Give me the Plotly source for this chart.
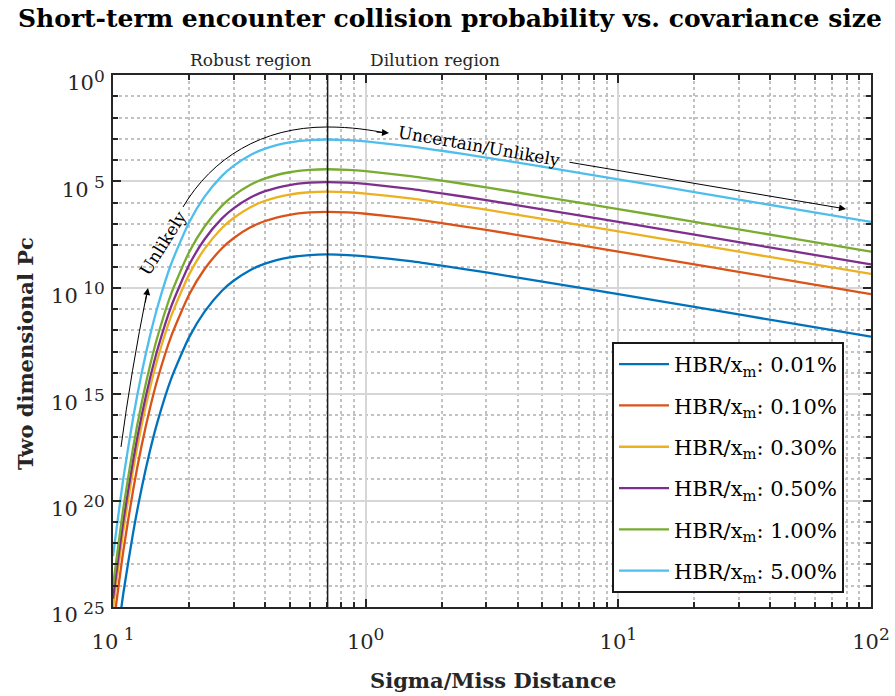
import plotly.graph_objects as go

# Sigma / miss-distance ratio samples (x)
sigma_over_miss = [0.10, 0.11, 0.12, 0.13, 0.14, 0.15, 0.17, 0.20, 0.23, 0.27, 0.30, 0.35,
                   0.40, 0.50, 0.60, 0.70, 0.85, 1.0, 1.5, 2.0, 3.0, 5.0, 10.0, 20.0, 50.0, 100.0]

# log10 of the two-dimensional collision probability for each HBR / miss-distance ratio
log10_pc_0p01 = [-28.01, -24.32, -21.54, -19.38, -17.67, -16.30, -14.27, -12.33, -11.13, -10.14, -9.67, -9.16,
                 -8.86, -8.57, -8.46, -8.43, -8.46, -8.52, -8.75, -8.96, -9.28, -9.71, -10.30, -10.90, -11.70, -12.30]
log10_pc_0p10 = [-26.01, -22.32, -19.54, -17.38, -15.67, -14.30, -12.27, -10.33, -9.13, -8.14, -7.67, -7.16,
                 -6.86, -6.57, -6.46, -6.43, -6.46, -6.52, -6.75, -6.96, -7.28, -7.71, -8.30, -8.90, -9.70, -10.30]
log10_pc_0p30 = [-25.06, -21.37, -18.59, -16.43, -14.72, -13.35, -11.32, -9.38, -8.18, -7.19, -6.72, -6.21,
                 -5.91, -5.62, -5.51, -5.48, -5.51, -5.57, -5.80, -6.01, -6.33, -6.76, -7.35, -7.95, -8.75, -9.35]
log10_pc_0p50 = [-24.61, -20.92, -18.14, -15.98, -14.27, -12.90, -10.87, -8.93, -7.73, -6.74, -6.27, -5.76,
                 -5.46, -5.17, -5.06, -5.03, -5.06, -5.12, -5.35, -5.56, -5.88, -6.31, -6.90, -7.50, -8.30, -8.90]
log10_pc_1p00 = [-24.01, -20.32, -17.54, -15.38, -13.67, -12.30, -10.27, -8.33, -7.13, -6.14, -5.67, -5.16,
                 -4.86, -4.57, -4.46, -4.43, -4.46, -4.52, -4.75, -4.96, -5.28, -5.71, -6.30, -6.90, -7.70, -8.30]
log10_pc_5p00 = [-22.61, -18.92, -16.14, -13.98, -12.27, -10.90, -8.87, -6.93, -5.73, -4.74, -4.27, -3.76,
                 -3.46, -3.17, -3.06, -3.03, -3.06, -3.12, -3.35, -3.56, -3.88, -4.31, -4.90, -5.50, -6.30, -6.90]

series_labels = ["0.01%", "0.10%", "0.30%", "0.50%", "1.00%", "5.00%"]
series_values = [log10_pc_0p01, log10_pc_0p10, log10_pc_0p30, log10_pc_0p50, log10_pc_1p00, log10_pc_5p00]
series_colors = ["#0072BD", "#D95319", "#EDB120", "#7E2F8E", "#77AC30", "#4DBEEE"]

# Boundary between robust and dilution regions
peak_sigma = 0.707

# Axis ticks (labels as drawn, exponents without sign)
x_major = [0.1, 1, 10, 100]
x_major_exp = ["\u00a01", "0", "1", "2"]
x_minor = [m * d for d in (0.1, 1, 10) for m in range(2, 10)]
y_major = [1e0, 1e-5, 1e-10, 1e-15, 1e-20, 1e-25]
y_major_exp = ["0", "\u00a05", "\u00a010", "\u00a015", "\u00a020", "\u00a025"]
y_minor = [10.0 ** -k for k in range(1, 25) if k % 5 != 0]

FONT = "DejaVu Serif"
INK = "#262626"


def power_label(exp):
    return f'10<sup><span style="font-size:17px">{exp}</span></sup>'


fig = go.Figure()
for lbl, vals, col in zip(series_labels, series_values, series_colors):
    fig.add_trace(go.Scatter(
        x=sigma_over_miss, y=[10.0 ** v for v in vals], mode="lines",
        line=dict(color=col, width=2.3, shape="spline", smoothing=0.6),
        name="HBR/x<sub>m</sub>: " + lbl, legendgroup=lbl,
    ))

fig.add_shape(type="line", xref="x", yref="paper", x0=peak_sigma, x1=peak_sigma, y0=0, y1=1,
              line=dict(color="#1a1a1a", width=1.5), layer="above")

# plot-area pixel frame used for the annotation arrows
L, R, T, B = 113, 871, 75, 607


def px(x):
    return (x - L) / (R - L)


def py(y):
    return (B - y) / (B - T)


def path(cmds):
    out = []
    for c, pts in cmds:
        out.append(c + " " + " ".join(f"{px(a):.5f},{py(b):.5f}" for a, b in pts))
    return " ".join(out)


arrow_line = dict(color="black", width=1)
fig.add_shape(type="path", xref="paper", yref="paper", line=arrow_line,
              path=path([("M", [(121, 447)]), ("Q", [(131, 372), (147, 292)])]))
fig.add_shape(type="path", xref="paper", yref="paper", line=arrow_line,
              path=path([("M", [(183, 207)]), ("C", [(212, 158), (262, 127), (327, 127)]),
                         ("C", [(352, 127), (370, 130), (386, 133)])]))


def label(x, y, text, size, angle=0, color="black"):
    return dict(xref="paper", yref="paper", x=px(x), y=py(y), xanchor="center", yanchor="middle",
                text=text, textangle=angle, showarrow=False,
                font=dict(family=FONT, size=size, color=color))


def head(x, y, ax, ay):
    return dict(xref="paper", yref="paper", x=px(x), y=py(y), ax=ax, ay=ay, text="",
                showarrow=True, arrowhead=2, arrowsize=1.4, arrowwidth=1, arrowcolor="black")


ann = [
    head(148, 288, -3, 16),
    head(389, 133, -14, -1),
    head(846, 209, -278, -47),
    label(163, 243, "Unlikely", 17, -58),
    label(479, 146, "Uncertain/Unlikely", 17, 10),
    label(251, 60, "Robust region", 17, 0, INK),
    label(435, 60, "Dilution region", 17, 0, INK),
    label(493, 680, "<b>Sigma/Miss Distance</b>", 21, 0, INK),
    label(25, 354, "<b>Two dimensional Pc</b>", 21, -90, INK),
    label(450, 19, "<b>Short-term encounter collision probability vs. covariance size</b>", 25),
]

axis_common = dict(
    type="log", showline=True, linecolor=INK, linewidth=2, mirror="allticks",
    ticks="inside", ticklen=8, tickwidth=1.5, tickcolor=INK, automargin=False,
    showgrid=True, gridcolor="#d6d6d6", gridwidth=1.5, zeroline=False,
    tickfont=dict(family=FONT, size=21, color=INK),
)
minor_common = dict(tickmode="array", ticks="inside", ticklen=5, tickcolor=INK,
                    showgrid=True, gridcolor="#c2c2c2", gridwidth=1.5, griddash="dot")

fig.update_xaxes(**axis_common, range=[-1, 2], tickmode="array", tickvals=x_major,
                 ticktext=[power_label(e) for e in x_major_exp],
                 ticklabelstandoff=15, minor=dict(tickvals=x_minor, **minor_common))
fig.update_yaxes(**axis_common, range=[-25, 0], tickmode="array", tickvals=y_major,
                 ticktext=[power_label(e) for e in y_major_exp],
                 ticklabelstandoff=2, ticklabelshift=8, minor=dict(tickvals=y_minor, **minor_common))

fig.update_layout(
    width=895, height=696,
    margin=dict(l=L, r=895 - R, t=T, b=696 - B, autoexpand=False),
    paper_bgcolor="white", plot_bgcolor="white",
    annotations=ann,
    showlegend=True,
    legend=dict(x=px(612), y=py(342), xanchor="left", yanchor="top",
                bgcolor="white", bordercolor="#1a1a1a", borderwidth=2,
                font=dict(family=FONT, size=21, color="black"),
                tracegroupgap=11, itemwidth=50),
)

fig.write_html("out.html")
